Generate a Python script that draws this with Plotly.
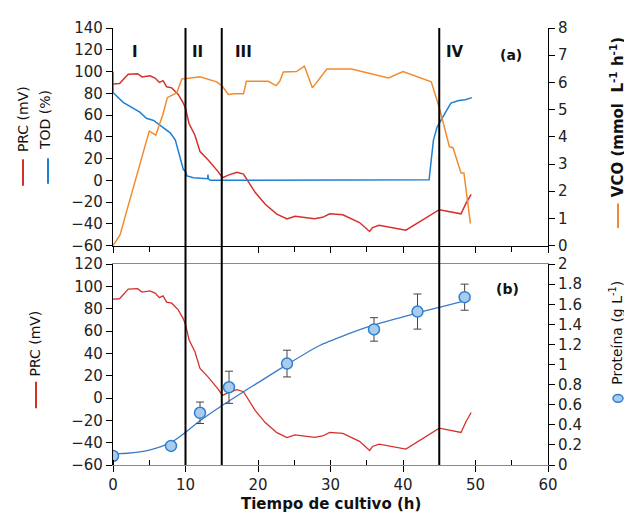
import plotly.graph_objects as go

# ---------------- data ----------------
prc_t = [0, 0.9, 2.1, 3.4, 4.0, 5.1, 5.8, 6.4, 6.9, 7.4, 8.1, 9.0, 9.7, 10.0, 10.5, 11.3, 12.0,
         13.1, 14.5, 15.1, 15.9, 17.1, 18.0, 19.6, 21.0, 22.6, 24.0, 25.1, 27.8, 28.9, 29.9,
         31.7, 34.0, 35.4, 35.8, 36.7, 40.4, 45.0, 48.0, 48.7, 49.4]
prc_v = [88.6, 89, 97.6, 98, 95, 96, 94, 90, 91.6, 86, 85, 79, 71, 66, 52, 41.5, 26.5,
         19, 8, 2.4, 4.8, 7.5, 5.7, -11, -22, -31, -35.5, -33, -35.2, -34, -30.7,
         -31.6, -38.8, -47, -43.4, -41.3, -45.8, -27, -30.8, -21, -12.9]

tod_t = [0, 0, 1.4, 2.8, 3.7, 4.6, 5.6, 6.5, 7.9, 8.6, 9.2, 9.7, 10.0, 10.2, 11.1, 12.0,
         13.05, 13.1, 13.15, 13.4, 20, 30, 40, 43.6, 43.9, 44.2, 44.7, 45.2, 45.9, 46.6,
         47.7, 48.6, 49.5]
tod_v = [100, 80.7, 71.7, 66.6, 62.7, 57, 55, 50.6, 43.7, 37, 22, 10, 8.4, 4, 2.4, 1.8,
         1.5, 5.4, 1.5, 0, 0, 0, 0, 0.5, 19, 37, 49, 55, 64, 71,
         73.4, 74, 76]

vco_t = [0, 0.97, 2.1, 3.3, 4.4, 5.0, 5.9, 6.9, 7.5, 8.8, 9.5, 10.2, 12.0, 14.3, 15.1, 15.9,
         16.8, 18.0, 18.4, 21.4, 22.5, 23.0, 23.5, 25.3, 26.4, 27.5, 29.5, 32.9, 38.0,
         40.0, 43.9, 45.0, 46.4, 46.9, 48.0, 48.4, 49.3]
vco_v = [0, 0.39, 1.47, 2.61, 3.57, 4.21, 4.06, 4.84, 5.44, 5.62, 6.13, 6.14, 6.21, 6.02, 5.86, 5.56,
         5.58, 5.58, 6.04, 6.04, 5.88, 6.04, 6.38, 6.4, 6.6, 5.8, 6.49, 6.49, 6.16,
         6.4, 6.02, 5.08, 3.64, 3.6, 2.67, 2.67, 0.81]

prot_t = [0, 8, 12, 16, 24, 36, 42, 48.5]
prot_v = [0.09, 0.19, 0.52, 0.774, 1.01, 1.35, 1.528, 1.671]
prot_err = [0, 0, 0.107, 0.16, 0.133, 0.117, 0.175, 0.13]

fit_t = [0, 2, 5, 8, 10, 12, 15, 18, 20, 24, 28.5, 30, 33, 36, 39, 42, 45, 48.5]
fit_v = [0.115, 0.117, 0.148, 0.225, 0.325, 0.44, 0.59, 0.73, 0.82, 1.0, 1.19,
         1.235, 1.32, 1.395, 1.455, 1.515, 1.57, 1.635]

phase_bounds = [10, 15, 45]
phase_labels = ["I", "II", "III", "IV"]
phase_label_t = [3.1, 11.7, 18.0, 47.2]

# ---------------- styles ----------------
RED = "#d6302b"
BLUE = "#1f7fd1"
ORANGE = "#f28b30"
FIT = "#3b7bc8"
FONT = "DejaVu Sans"

fig = go.Figure()

fig.add_trace(go.Scatter(x=prc_t, y=prc_v, mode="lines", line=dict(color=RED, width=1.5),
                         xaxis="x", yaxis="y", showlegend=False))
fig.add_trace(go.Scatter(x=tod_t, y=tod_v, mode="lines", line=dict(color=BLUE, width=1.5),
                         xaxis="x", yaxis="y", showlegend=False))
fig.add_trace(go.Scatter(x=vco_t, y=vco_v, mode="lines", line=dict(color=ORANGE, width=1.5),
                         xaxis="x", yaxis="y2", showlegend=False))

fig.add_trace(go.Scatter(x=prc_t, y=prc_v, mode="lines", line=dict(color=RED, width=1.3),
                         xaxis="x2", yaxis="y3", showlegend=False))
fig.add_trace(go.Scatter(x=fit_t, y=fit_v, mode="lines", line=dict(color=FIT, width=1.3, shape="spline"),
                         xaxis="x2", yaxis="y4", showlegend=False))
fig.add_trace(go.Scatter(x=prot_t, y=prot_v, mode="markers",
                         marker=dict(size=11, color="#a9cbee", line=dict(color="#2f7fd0", width=1.5)),
                         error_y=dict(type="data", array=prot_err, visible=True, color="#444444",
                                      thickness=1, width=4),
                         xaxis="x2", yaxis="y4", showlegend=False))

# page has 8px body offset; plot area spans page x 113..548, y 19..465
top_dom = [0.502, 1.0]
bot_dom = [0.0, 0.4596]

axis_common = dict(showgrid=False, zeroline=False, showline=True, linewidth=1.2,
                   tickfont=dict(family=FONT, size=15, color="#222"), ticklen=6, tickwidth=1.2)

fig.update_layout(
    width=624, height=508,
    margin=dict(l=105, r=84, t=11, b=51),
    paper_bgcolor="white", plot_bgcolor="white",
    font=dict(family=FONT, color="#111"),
    xaxis=dict(domain=[0, 1], anchor="y", range=[0, 60], dtick=10, ticks="outside",
               showticklabels=False, linecolor="black", tickcolor="black",
               minor=dict(dtick=5, ticks="outside", ticklen=5, tickcolor="black"), **axis_common),
    yaxis=dict(domain=top_dom, anchor="x", range=[-60, 140], dtick=20, ticks="outside",
               linecolor="black", tickcolor="black", **axis_common),
    yaxis2=dict(overlaying="y", anchor="x", side="right", range=[0, 8], dtick=1, ticks="outside",
                linecolor="black", tickcolor="black", **axis_common),
    xaxis2=dict(domain=[0, 1], anchor="y3", range=[0, 60], dtick=10, ticks="outside",
                linecolor="#8a8a8a", tickcolor="black", mirror=True,
                minor=dict(dtick=5, ticks="inside", ticklen=5, tickcolor="black"), **axis_common),
    yaxis3=dict(domain=bot_dom, anchor="x2", range=[-60, 120], dtick=20, ticks="outside",
                linecolor="black", tickcolor="black", **axis_common),
    yaxis4=dict(overlaying="y3", anchor="x2", side="right", range=[0, 2], dtick=0.2, ticks="outside",
                linecolor="black", tickcolor="black", **axis_common),
)

shapes = []
for b in phase_bounds:
    shapes.append(dict(type="line", xref="x", yref="paper", x0=b, x1=b, y0=0, y1=1,
                       line=dict(color="black", width=2)))

W = 435.0
H = 446.0


def px(xp):
    return (xp - 113) / W


def py(yp):
    return (465 - yp) / H


# legend dashes beside axis titles
shapes.append(dict(type="line", xref="paper", yref="paper", x0=px(23), x1=px(23), y0=py(153), y1=py(180),
                   line=dict(color=RED, width=2)))
shapes.append(dict(type="line", xref="paper", yref="paper", x0=px(48), x1=px(48), y0=py(152), y1=py(178),
                   line=dict(color=BLUE, width=2)))
shapes.append(dict(type="line", xref="paper", yref="paper", x0=px(618), x1=px(618), y0=py(198), y1=py(223),
                   line=dict(color=ORANGE, width=2)))
shapes.append(dict(type="line", xref="paper", yref="paper", x0=px(36), x1=px(36), y0=py(380), y1=py(407),
                   line=dict(color=RED, width=2)))
shapes.append(dict(type="circle", xref="paper", yref="paper", x0=px(613), x1=px(623), y0=py(393), y1=py(401),
                   fillcolor="#a9cbee", line=dict(color="#2f7fd0", width=1.5)))
fig.update_layout(shapes=shapes)


def note(x, y, text, size=14, angle=0, xref="paper", yref="paper"):
    return dict(x=x, y=y, xref=xref, yref=yref, text=text, textangle=angle, showarrow=False,
                xanchor="center", yanchor="middle",
                font=dict(family=FONT, size=size, color="#111"))


ann = []
for lab, t in zip(phase_labels, phase_label_t):
    ann.append(note(t, 118, "<b>%s</b>" % lab, 15, xref="x", yref="y"))
ann.append(note(54.9, 7.0, "<b>(a)</b>", 14, xref="x", yref="y2"))
ann.append(note(54.4, 97.5, "<b>(b)</b>", 14, xref="x2", yref="y3"))

ann.append(note(px(23), py(112), "PRC (mV)", 14, -90))
ann.append(note(px(45), py(113), "TOD (%)", 14, -90))
ann.append(note(px(617), py(110), "<b>VCO (mmol  L<sup>-1</sup> h<sup>-1</sup>)</b>", 15, -90))
ann.append(note(px(35), py(341), "PRC (mV)", 14, -90))
ann.append(note(px(616), py(330), "Proteína (g L<sup>-1</sup>)", 14, -90))
ann.append(note(px(331), py(505), "<b>Tiempo de cultivo (h)</b>", 15))
fig.update_layout(annotations=ann)

fig.write_html("out.html")
